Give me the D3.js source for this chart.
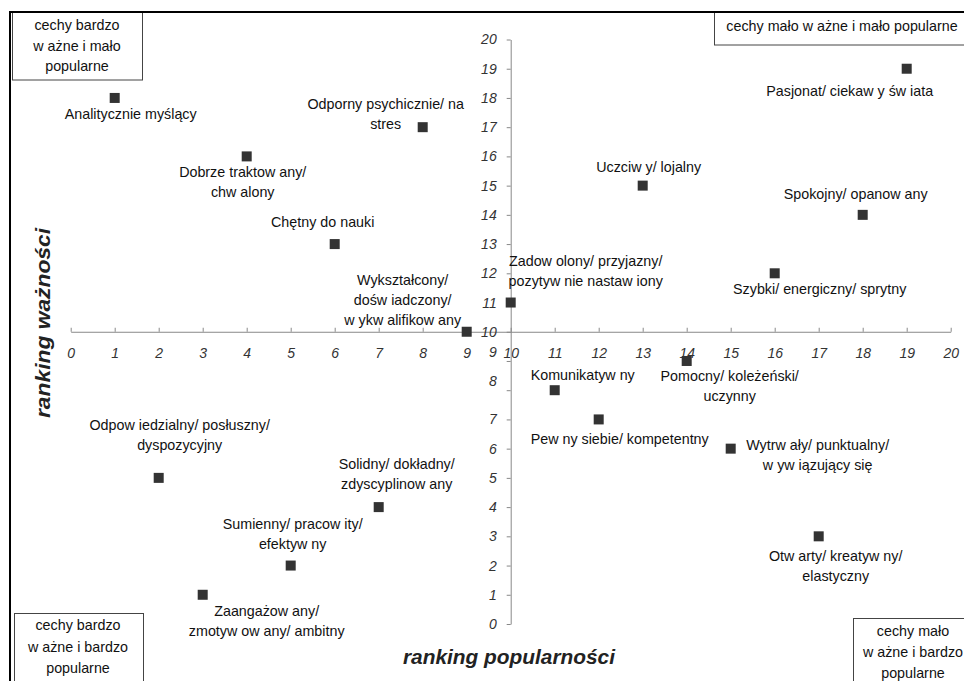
<!DOCTYPE html>
<html>
<head>
<meta charset="utf-8">
<script src="https://cdn.jsdelivr.net/npm/d3@7"></script>
<style>
html,body{margin:0;padding:0;background:#fff;}
svg{display:block;}
text{font-family:"Liberation Sans",Arial,sans-serif;}
</style>
</head>
<body>
<svg id="chart" width="964" height="681"></svg>
<script>
// ---- data ----
const traitLabels = [
  ["Analitycznie myślący"],
  ["Odporny psychicznie/ na", "stres"],
  ["Dobrze traktow any/", "chw alony"],
  ["Chętny do nauki"],
  ["Wykształcony/", "dośw iadczony/", "w ykw alifikow any"],
  ["Zadow olony/ przyjazny/", "pozytyw nie nastaw iony"],
  ["Pasjonat/ ciekaw y św iata"],
  ["Uczciw y/ lojalny"],
  ["Spokojny/ opanow any"],
  ["Szybki/ energiczny/ sprytny"],
  ["Komunikatyw ny"],
  ["Pomocny/ koleżeński/", "uczynny"],
  ["Pew ny siebie/ kompetentny"],
  ["Wytrw ały/ punktualny/", "w yw iązujący się"],
  ["Otw arty/ kreatyw ny/", "elastyczny"],
  ["Odpow iedzialny/ posłuszny/", "dyspozycyjny"],
  ["Solidny/ dokładny/", "zdyscyplinow any"],
  ["Sumienny/ pracow ity/", "efektyw ny"],
  ["Zaangażow any/", "zmotyw ow any/ ambitny"]
];
const popularityRank = [1, 8, 4, 6, 9, 10, 19, 13, 18, 16, 11, 14, 12, 15, 17, 2, 7, 5, 3];
const importanceRank = [18, 17, 16, 13, 10, 11, 19, 15, 14, 12, 8, 9, 7, 6, 3, 5, 4, 2, 1];
const xTicks = d3.range(0, 21);
const yTicks = d3.range(0, 21);
const xTitle = "ranking popularności";
const yTitle = "ranking ważności";
const quadrantTexts = [
  ["cechy bardzo", "w ażne i mało", "popularne"],
  ["cechy mało w ażne i mało popularne"],
  ["cechy bardzo", "w ażne i bardzo", "popularne"],
  ["cechy mało", "w ażne i bardzo", "popularne"]
];

// ---- layout (label offsets from each marker, px) ----
const labelOffsets = [
  [16, 16.5], [-37, -23], [-4, 16], [-12, -22], [-64, -52], [75, -41.5],
  [-57, 22.7], [6, -19], [-7, -20.6], [45, 16], [28, -15.4], [43, 15],
  [21, 20], [87, -4], [17, 20], [21, -53], [18, -43], [2, -41.5], [64, 16]
];
const quadrantBoxes = [
  {x: 12.5, y: 12.5, w: 130, h: 67.5, cx: 77, cy: 25, lh: 20.5},
  {x: 714.5, y: 12.5, w: 260, h: 32.5, cx: 842, cy: 26, lh: 20},
  {x: 14.5, y: 613.5, w: 129, h: 80, cx: 78, cy: 625, lh: 21.5},
  {x: 853.5, y: 618.5, w: 130, h: 80, cx: 913, cy: 631, lh: 21}
];
const labelFont = 14.3;

const svg = d3.select("#chart");
const x = d3.scaleLinear().domain([0, 20]).range([70.7, 950.7]);
const y = d3.scaleLinear().domain([0, 20]).range([624, 39.5]);

// quadrant boxes
quadrantBoxes.forEach((b, i) => {
  const g = svg.append("g");
  g.append("rect").attr("x", b.x).attr("y", b.y).attr("width", b.w).attr("height", b.h)
    .attr("fill", "#fff").attr("stroke", "#444").attr("stroke-width", 1);
  quadrantTexts[i].forEach((t, j) => {
    g.append("text").attr("x", b.cx).attr("y", b.cy + j * b.lh).attr("dy", "0.35em")
      .attr("text-anchor", "middle").attr("font-size", labelFont).attr("fill", "#111").text(t);
  });
});
// outer frame
svg.append("path")
  .attr("d", "M10,690 L10,12 L980,12")
  .attr("fill", "none").attr("stroke", "#000").attr("stroke-width", 2);

// axes
const xAxis = d3.axisBottom(x).tickValues(xTicks).tickSizeInner(-4).tickSizeOuter(0).tickPadding(16);
const gx = svg.append("g").attr("transform", `translate(0,${y(10)})`).call(xAxis);
const yAxis = d3.axisLeft(y).tickValues(yTicks).tickSizeInner(4).tickSizeOuter(0).tickPadding(10);
const gy = svg.append("g").attr("transform", `translate(${x(10)},0)`).call(yAxis);
[gx, gy].forEach(g => {
  g.select(".domain").attr("stroke", "#888");
  g.selectAll(".tick line").attr("stroke", "#888");
  g.selectAll(".tick text").attr("font-size", 14).attr("font-style", "italic")
    .attr("fill", "#333").attr("font-family", "'Liberation Sans',Arial,sans-serif");
});
// the reference places the 8 and 9 labels slightly higher than their ticks
gy.selectAll(".tick").filter(d => d === 8 || d === 9).select("text").attr("y", -9);

// axis titles
svg.append("text").attr("x", 509).attr("y", 664).attr("text-anchor", "middle")
  .attr("font-size", 20.5).attr("font-weight", "bold").attr("font-style", "italic")
  .attr("textLength", 212).attr("lengthAdjust", "spacingAndGlyphs")
  .attr("fill", "#222").text(xTitle);
svg.append("text").attr("transform", "translate(50,323) rotate(-90)").attr("text-anchor", "middle")
  .attr("font-size", 20.5).attr("font-weight", "bold").attr("font-style", "italic")
  .attr("textLength", 190).attr("lengthAdjust", "spacingAndGlyphs")
  .attr("fill", "#222").text(yTitle);

// markers
const pts = traitLabels.map((lab, i) => ({lab, px: popularityRank[i], im: importanceRank[i], off: labelOffsets[i]}));
svg.append("g").selectAll("rect").data(pts).join("rect")
  .attr("x", d => x(d.px) - 5).attr("y", d => y(d.im) - 5)
  .attr("width", 10).attr("height", 10).attr("fill", "#333");

// labels
const lg = svg.append("g");
pts.forEach(d => {
  d.lab.forEach((t, j) => {
    lg.append("text")
      .attr("x", x(d.px) + d.off[0])
      .attr("y", y(d.im) + d.off[1] + j * 20)
      .attr("dy", "0.35em").attr("text-anchor", "middle")
      .attr("font-size", labelFont).attr("fill", "#111").text(t);
  });
});
</script>
</body>
</html>
